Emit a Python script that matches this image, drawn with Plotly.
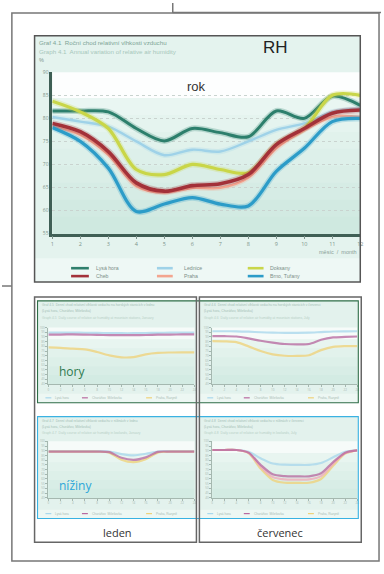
import plotly.graph_objects as go

W, H = 384, 574


def X(p):
    return p / W


def Y(p):
    return 1 - p / H


# ---- annual course of relative humidity (main chart) ----
months = list(range(1, 13))
month_labels = [str(m) for m in months]
rh_ticks = [55, 60, 65, 70, 75, 80, 85, 90]

lysa_hora = [81.6, 81.6, 81.4, 77.8, 75.1, 77.8, 76.9, 76.0, 81.6, 80.0, 84.8, 82.8]
lednice = [80.3, 79.3, 78.2, 75.0, 72.0, 73.2, 72.8, 75.0, 77.5, 78.9, 81.4, 82.1]
doksany = [83.7, 81.4, 77.8, 68.9, 67.8, 70.0, 68.9, 68.2, 74.3, 77.8, 85.0, 85.0]
cheb = [78.9, 77.1, 72.8, 66.0, 64.2, 65.4, 65.8, 67.8, 74.3, 77.8, 81.1, 81.8]
praha = [78.2, 76.4, 72.1, 65.3, 63.9, 64.9, 64.9, 67.1, 73.5, 77.5, 80.3, 80.3]
brno = [78.0, 75.0, 69.2, 59.8, 61.4, 62.8, 61.4, 61.0, 68.5, 73.5, 79.3, 80.0]

station_names = ["Lysá hora", "Lednice", "Doksany", "Cheb", "Praha", "Brno, Tuřany"]
station_values = [lysa_hora, lednice, doksany, cheb, praha, brno]
station_colors = ["#2f7f6c", "#9fd2e8", "#c9d64a", "#a3323a", "#f3a58f", "#2c9cc8"]
station_widths = [3, 2.4, 3.2, 3.6, 2.4, 3.2]
# draw order: back to front
draw_order = [1, 0, 2, 4, 3, 5]

# ---- daily course thumbnails (hours every 2 h) ----
hours = list(range(0, 25, 2))
hour_ticks = list(range(0, 25, 2))
thumb_ticks = list(range(40, 101, 5))

hory_leden_a = [92.6, 92.6, 92.7, 92.5, 92.2, 92.0, 91.9, 91.9, 92.1, 92.4, 92.6, 92.7, 92.8]
hory_leden_b = [94.7, 94.7, 94.6, 94.5, 94.3, 94.1, 94.0, 94.0, 94.2, 94.4, 94.6, 94.7, 94.7]
hory_leden_c = [78.9, 78.5, 77.5, 76.8, 74.0, 70.5, 68.4, 68.6, 71.5, 73.0, 73.5, 73.7, 73.7]

hory_cervenec_a = [90.8, 90.8, 90.5, 88.5, 86.0, 84.0, 82.5, 82.1, 82.5, 87.0, 89.5, 90.0, 90.5]
hory_cervenec_b = [96.1, 96.1, 96.0, 95.6, 95.0, 94.6, 94.4, 94.4, 94.6, 95.2, 95.8, 96.0, 96.1]
hory_cervenec_c = [85.6, 85.4, 84.5, 80.0, 75.0, 71.5, 70.0, 69.8, 70.5, 76.0, 79.5, 80.3, 80.3]

niziny_leden_a = [89.1, 89.1, 89.1, 89.1, 89.1, 88.5, 82.5, 80.3, 83.0, 88.8, 89.1, 89.1, 89.1]
niziny_leden_b = [89.6, 89.6, 89.6, 89.6, 89.6, 89.2, 86.5, 85.2, 86.8, 89.2, 89.6, 89.6, 89.6]
niziny_leden_c = [89.0, 89.0, 89.0, 89.0, 89.0, 88.0, 80.5, 77.9, 81.0, 88.0, 89.0, 89.0, 89.0]

niziny_cervenec_a = [90.8, 90.8, 90.8, 88.0, 75.0, 65.0, 63.0, 62.8, 62.8, 66.0, 78.0, 88.0, 90.5]
niziny_cervenec_b = [90.8, 90.8, 90.8, 89.0, 82.0, 76.5, 75.2, 75.0, 75.0, 77.0, 83.0, 89.0, 90.5]
niziny_cervenec_c = [90.8, 90.8, 90.8, 87.5, 71.0, 59.0, 56.0, 55.8, 56.0, 60.0, 74.0, 87.0, 90.5]
niziny_cervenec_d = [90.8, 90.8, 90.8, 87.8, 73.0, 62.0, 59.5, 59.3, 59.5, 63.0, 76.0, 87.5, 90.5]

thumb_purple = "#b86aa0"
thumb_blue = "#a9d8ec"
thumb_yellow = "#efd27a"
thumb_pink = "#f0aab8"

fig = go.Figure()
shapes = []
annotations = []


def rect(x0, y0, x1, y1, fill=None, line=None, lw=1.0, layer="below"):
    shapes.append(dict(
        type="rect", xref="paper", yref="paper",
        x0=X(x0), x1=X(x1), y0=Y(y1), y1=Y(y0),
        fillcolor=fill if fill else "rgba(0,0,0,0)",
        line=dict(color=line if line else "rgba(0,0,0,0)", width=lw if line else 0),
        layer=layer,
    ))


def seg(x0, y0, x1, y1, color, lw=1.0, layer="above"):
    shapes.append(dict(
        type="line", xref="paper", yref="paper",
        x0=X(x0), x1=X(x1), y0=Y(y0), y1=Y(y1),
        line=dict(color=color, width=lw), layer=layer,
    ))


def text(x, y, s, size, color, anchor="left", family="Liberation Sans", weight=None):
    font = dict(size=size, color=color, family=family)
    if weight:
        font["weight"] = weight
    annotations.append(dict(
        x=X(x), y=Y(y), xref="paper", yref="paper", text=s, showarrow=False,
        xanchor=anchor, yanchor="middle", font=font,
    ))


def gradient(x0, y0, x1, y1, c_top, c_bot, steps=8):
    def hx(c):
        return [int(c[i:i + 2], 16) for i in (1, 3, 5)]
    a, b = hx(c_top), hx(c_bot)
    h = (y1 - y0) / steps
    for i in range(steps):
        t = i / (steps - 1)
        c = "#%02x%02x%02x" % tuple(int(a[k] + (b[k] - a[k]) * t) for k in range(3))
        rect(x0, y0 + i * h, x1, y0 + (i + 1) * h + 0.5, fill=c)


# ---------------- main chart ----------------
rect(33, 33, 363, 282, fill="#e4f3ee")
rect(33, 258, 363, 282, fill="#eef8f5")
rect(51, 70, 363, 96, fill="#fdfefe")
gradient(51, 96, 363, 233, "#e9f6f2", "#cfe9e0")
rect(33, 33, 363, 282, line="#555555", lw=1.5, layer="above")

for idx in draw_order:
    vals = station_values[idx]
    col = station_colors[idx]
    w = station_widths[idx]
    fig.add_trace(go.Scatter(
        x=months, y=vals, mode="lines", xaxis="x", yaxis="y",
        line=dict(color=col, width=w + 3, shape="spline", smoothing=0.9),
        opacity=0.25, hoverinfo="skip", showlegend=False,
    ))
    fig.add_trace(go.Scatter(
        x=months, y=vals, mode="lines", xaxis="x", yaxis="y", name=station_names[idx],
        line=dict(color=col, width=w, shape="spline", smoothing=0.9),
        showlegend=False,
    ))

text(35, 40, "Graf 4.1  Roční chod relativní vlhkosti vzduchu", 6.2, "#7ea596")
text(35, 49, "Graph 4.1  Annual variation of relative air humidity", 6.2, "#a7c7bb")
text(35, 58, "%", 5.5, "#7f948c")
text(262, 45, "RH", 17, "#222222")
text(197, 84, "rok", 13, "#333333", anchor="center")
text(362, 252, "měsíc  /  month", 5.5, "#8aa097", anchor="right")

# legend of the main chart
legend_cols = [(70, 88, 93), (157, 173, 182), (249, 265, 270)]
legend_rows = [268, 276]
legend_pos = {0: (0, 0), 1: (1, 0), 2: (2, 0), 3: (0, 1), 4: (1, 1), 5: (2, 1)}
for idx, (c, r) in legend_pos.items():
    lx0, lx1, tx = legend_cols[c]
    ly = legend_rows[r]
    seg(lx0, ly, lx1, ly, station_colors[idx], lw=2.6)
    text(tx, ly, station_names[idx], 5.2, "#7c8f88")

# ---------------- thumbnails ----------------
thumbs = [
    dict(box=(36, 301, 197, 404), plot=(47, 328, 195, 385), series=[
        (hory_leden_b, thumb_blue), (hory_leden_a, thumb_purple), (hory_leden_c, thumb_yellow)],
        t1="Graf 4.5  Denní chod relativní vlhkosti vzduchu na horských stanicích v lednu",
        t2="Graph 4.5  Daily course of relative air humidity at mountain stations, January"),
    dict(box=(200, 301, 361, 404), plot=(213, 328, 360, 385), series=[
        (hory_cervenec_b, thumb_blue), (hory_cervenec_a, thumb_purple), (hory_cervenec_c, thumb_yellow)],
        t1="Graf 4.6  Denní chod relativní vlhkosti vzduchu na horských stanicích v červenci",
        t2="Graph 4.6  Daily course of relative air humidity at mountain stations, July"),
    dict(box=(36, 418, 197, 521), plot=(47, 443, 195, 500), series=[
        (niziny_leden_b, thumb_blue), (niziny_leden_c, thumb_yellow), (niziny_leden_a, thumb_purple)],
        t1="Graf 4.7  Denní chod relativní vlhkosti vzduchu v nížinách v lednu",
        t2="Graph 4.7  Daily course of relative air humidity in lowlands, January"),
    dict(box=(200, 418, 361, 521), plot=(213, 443, 360, 500), series=[
        (niziny_cervenec_b, thumb_blue), (niziny_cervenec_c, thumb_yellow),
        (niziny_cervenec_d, thumb_pink), (niziny_cervenec_a, thumb_purple)],
        t1="Graf 4.8  Denní chod relativní vlhkosti vzduchu v nížinách v červenci",
        t2="Graph 4.8  Daily course of relative air humidity in lowlands, July"),
]

layout_axes = {}
axis_common = dict(showgrid=False, zeroline=False, fixedrange=True)

for k, th in enumerate(thumbs, start=2):
    bx0, by0, bx1, by1 = th["box"]
    px0, py0, px1, py1 = th["plot"]
    rect(bx0, by0, bx1, by1, fill="#e3f2ed")
    rect(px0, py0, px1, py0 + 12, fill="#f6fbf9")
    gradient(px0, py0 + 12, px1, py1, "#e8f5f0", "#d3ebe3", steps=5)
    rect(bx0, by1 - 9, bx1, by1, fill="#edf7f3")
    text(bx0 + 3, by0 + 4, th["t1"], 3.3, "#a3c0b5")
    text(bx0 + 3, by0 + 10, "(Lysá hora, Churáňov, Milešovka)", 3.3, "#a3c0b5")
    text(bx0 + 3, by0 + 17, th["t2"], 3.3, "#b8d1c7")
    for j, (vals, col) in enumerate(th["series"]):
        fig.add_trace(go.Scatter(
            x=hours, y=vals, mode="lines", xaxis="x%d" % k, yaxis="y%d" % k,
            line=dict(color=col, width=2.2, shape="spline", smoothing=0.8),
            opacity=0.78, showlegend=False,
        ))
    # tiny legend under each thumbnail
    for j, (lx, s) in enumerate([(bx0 + 8, "Lysá hora"), (bx0 + 45, "Churáňov  Milešovka"), (bx0 + 110, "Praha, Ruzyně")]):
        col = [thumb_blue, thumb_purple, thumb_yellow][j]
        seg(lx, by1 - 5, lx + 6, by1 - 5, col, lw=1.2, layer="below")
        text(lx + 8, by1 - 5, s, 3.2, "#a9bcb5")
    layout_axes["xaxis%d" % k] = dict(
        domain=[X(px0), X(px1)], anchor="y%d" % k, range=[0, 24], tickvals=hour_ticks,
        ticks="outside", ticklen=2, tickcolor="#a5b8b0", showline=True, linecolor="#a5b8b0",
        linewidth=1, tickfont=dict(size=3, color="#a8b9b2"), **axis_common)
    layout_axes["yaxis%d" % k] = dict(
        domain=[Y(py1), Y(py0)], anchor="x%d" % k, range=[40, 100], tickvals=thumb_ticks,
        ticks="outside", ticklen=2, tickcolor="#a5b8b0", showline=True, linecolor="#a5b8b0",
        linewidth=1, tickfont=dict(size=3, color="#a8b9b2"), **axis_common)

text(56, 372, "hory", 12, "#2e7a4e", family="Open Sans")
text(56, 488, "nížiny", 12, "#2aa6d9", family="Open Sans")
text(117, 535, "leden", 11, "#333333", anchor="center", family="Open Sans")
text(282, 535, "červenec", 11, "#333333", anchor="center", family="Open Sans")

# coloured frames around the thumbnail rows
rect(36, 301, 361, 404, line="#2f6e48", lw=1.1, layer="above")
rect(36, 418, 361, 521, line="#3ab2e2", lw=1.1, layer="above")
# grey frames of the two columns
rect(33, 297, 197, 545, line="#666666", lw=1.5, layer="above")
rect(200, 297, 364, 545, line="#666666", lw=1.5, layer="above")

# page frames
rect(10, 10, 382, 564, line="#777777", lw=1.5, layer="above")
seg(173, 0, 173, 10, "#777777", lw=1.5)
seg(173, 9.5, 384, 9.5, "#777777", lw=1.5)
seg(0, 286, 10, 286, "#777777", lw=1.5)

fig.update_layout(
    width=W, height=H,
    margin=dict(l=0, r=0, t=0, b=0),
    paper_bgcolor="white", plot_bgcolor="rgba(0,0,0,0)",
    showlegend=False,
    xaxis=dict(
        domain=[X(51), X(363)], anchor="y", range=[1, 12], tickvals=months, ticktext=month_labels,
        ticks="outside", ticklen=3, tickcolor="#7d938b", showline=True, linecolor="#3f5f55",
        linewidth=2.5, tickfont=dict(size=5.5, color="#7d938b"), **axis_common),
    yaxis=dict(
        domain=[Y(233), Y(70)], anchor="x", range=[55, 90], tickvals=rh_ticks,
        ticks="", showline=True, linecolor="#3f5f55", linewidth=2.5,
        showgrid=True, gridcolor="#c9d3cf", gridwidth=1, griddash="dot",
        zeroline=False, fixedrange=True, tickfont=dict(size=5, color="#7d938b")),
    shapes=shapes,
    annotations=annotations,
    **layout_axes,
)

fig.write_html("out.html")
